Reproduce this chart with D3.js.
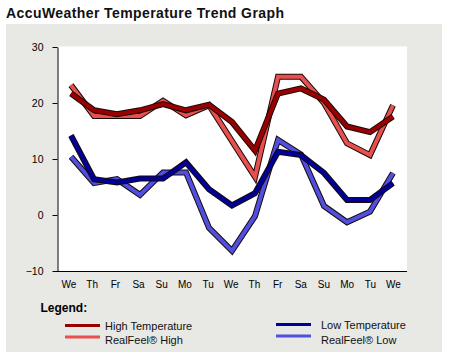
<!DOCTYPE html>
<html><head><meta charset="utf-8">
<script src="https://cdn.jsdelivr.net/npm/d3@7"></script>
<style>body{margin:0;background:#fff}svg{display:block}</style>
</head><body>
<svg id="c" width="449" height="357"></svg>
<script>
const days = ["We","Th","Fr","Sa","Su","Mo","Tu","We","Th","Fr","Sa","Su","Mo","Tu","We"];
const highTemp   = [21.7,18.7,18.0,18.7,19.8,18.7,19.7,16.6,11.5,21.7,22.6,20.6,15.8,14.8,17.6];
const realFeelHigh = [23.2,17.7,17.7,17.7,20.4,17.8,19.6,13.2,6.8,24.7,24.7,20.0,12.8,10.7,19.6];
const lowTemp    = [14.2,6.4,5.8,6.5,6.5,9.4,4.6,1.7,3.9,11.3,10.7,7.5,2.7,2.7,5.7];
const realFeelLow = [10.4,5.7,6.4,3.6,7.6,7.6,-2.3,-6.4,-0.2,13.4,10.8,1.6,-1.3,0.6,7.5];
const yTicks = [30,20,10,0,-10];
const seriesNames = ["High Temperature","RealFeel® High","Low Temperature","RealFeel® Low"];
const seriesColors = ["#990000","#e85050","#000096","#4f4fe0"];

const svg = d3.select("#c");
const idx = d3.range(days.length);
const x = d3.scalePoint().domain(idx).range([71, 393]);
const xl = d3.scalePoint().domain(idx).range([68.5, 393]);
const y = d3.scaleLinear().domain([-10, 30]).range([271, 47]);

// title
svg.append("text").attr("x", 6).attr("y", 17.5)
  .attr("font-family", "Liberation Sans, Arial, sans-serif").attr("font-weight", "bold")
  .attr("font-size", 14).attr("fill", "#111")
  .attr("textLength", 278).attr("lengthAdjust", "spacing")
  .text("AccuWeather Temperature Trend Graph");

// panel
svg.append("rect").attr("x", 6).attr("y", 24).attr("width", 436).attr("height", 328).attr("fill", "#e8e8e5");
// plot area
svg.append("rect").attr("x", 57.5).attr("y", 46.5).attr("width", 349.5).attr("height", 224.5).attr("fill", "#fff");

// y axis
const yAxis = d3.axisLeft(y).tickValues(yTicks).tickSize(5).tickPadding(9).tickSizeOuter(0);
const gy = svg.append("g").attr("transform", "translate(57.5,0)").call(yAxis);
gy.select(".domain").attr("stroke", "#000");
gy.selectAll("text").attr("font-family", "Liberation Sans, Arial, sans-serif").attr("font-size", 10.5).attr("fill", "#000");

// x axis (labels only, line at bottom)
const xAxis = d3.axisBottom(xl).tickSize(0).tickPadding(10).tickFormat(i => days[i]);
const gx = svg.append("g").attr("transform", "translate(0,271)").call(xAxis);
gx.select(".domain").remove();
gx.selectAll("text").attr("font-family", "Liberation Sans, Arial, sans-serif").attr("font-size", 10).attr("fill", "#000");
svg.append("line").attr("x1", 57).attr("x2", 407).attr("y1", 271.5).attr("y2", 271.5).attr("stroke", "#000");

// lines
const line = d3.line().x((d, i) => x(i)).y(d => y(d));
const data = [realFeelHigh, highTemp, realFeelLow, lowTemp];
const cols = [seriesColors[1], seriesColors[0], seriesColors[3], seriesColors[2]];
data.forEach((s, k) => {
  svg.append("path").attr("d", line(s)).attr("fill", "none").attr("stroke", "#1a0808")
    .attr("stroke-width", 6).attr("stroke-linejoin", "miter");
  svg.append("path").attr("d", line(s)).attr("fill", "none").attr("stroke", cols[k])
    .attr("stroke-width", 4).attr("stroke-linejoin", "miter");
});

// legend
svg.append("text").attr("x", 40.5).attr("y", 312).attr("font-family", "Liberation Sans, Arial, sans-serif")
  .attr("font-weight", "bold").attr("font-size", 12).attr("fill", "#000").text("Legend:");
const leg = [
  {n: 0, lx: 65, ly: 325.5, ty: 330},
  {n: 1, lx: 65, ly: 337, ty: 343.5},
  {n: 2, lx: 276, ly: 324.5, ty: 329},
  {n: 3, lx: 276, ly: 336, ty: 343.5}
];
leg.forEach(l => {
  svg.append("line").attr("x1", l.lx).attr("x2", l.lx + 35).attr("y1", l.ly).attr("y2", l.ly)
    .attr("stroke", seriesColors[l.n]).attr("stroke-width", 3);
  svg.append("text").attr("x", l.lx + 40 + (l.n > 1 ? 5 : 0)).attr("y", l.ty)
    .attr("font-family", "Liberation Sans, Arial, sans-serif").attr("font-size", 11).attr("fill", "#111")
    .text(seriesNames[l.n]);
});
</script>
</body></html>
